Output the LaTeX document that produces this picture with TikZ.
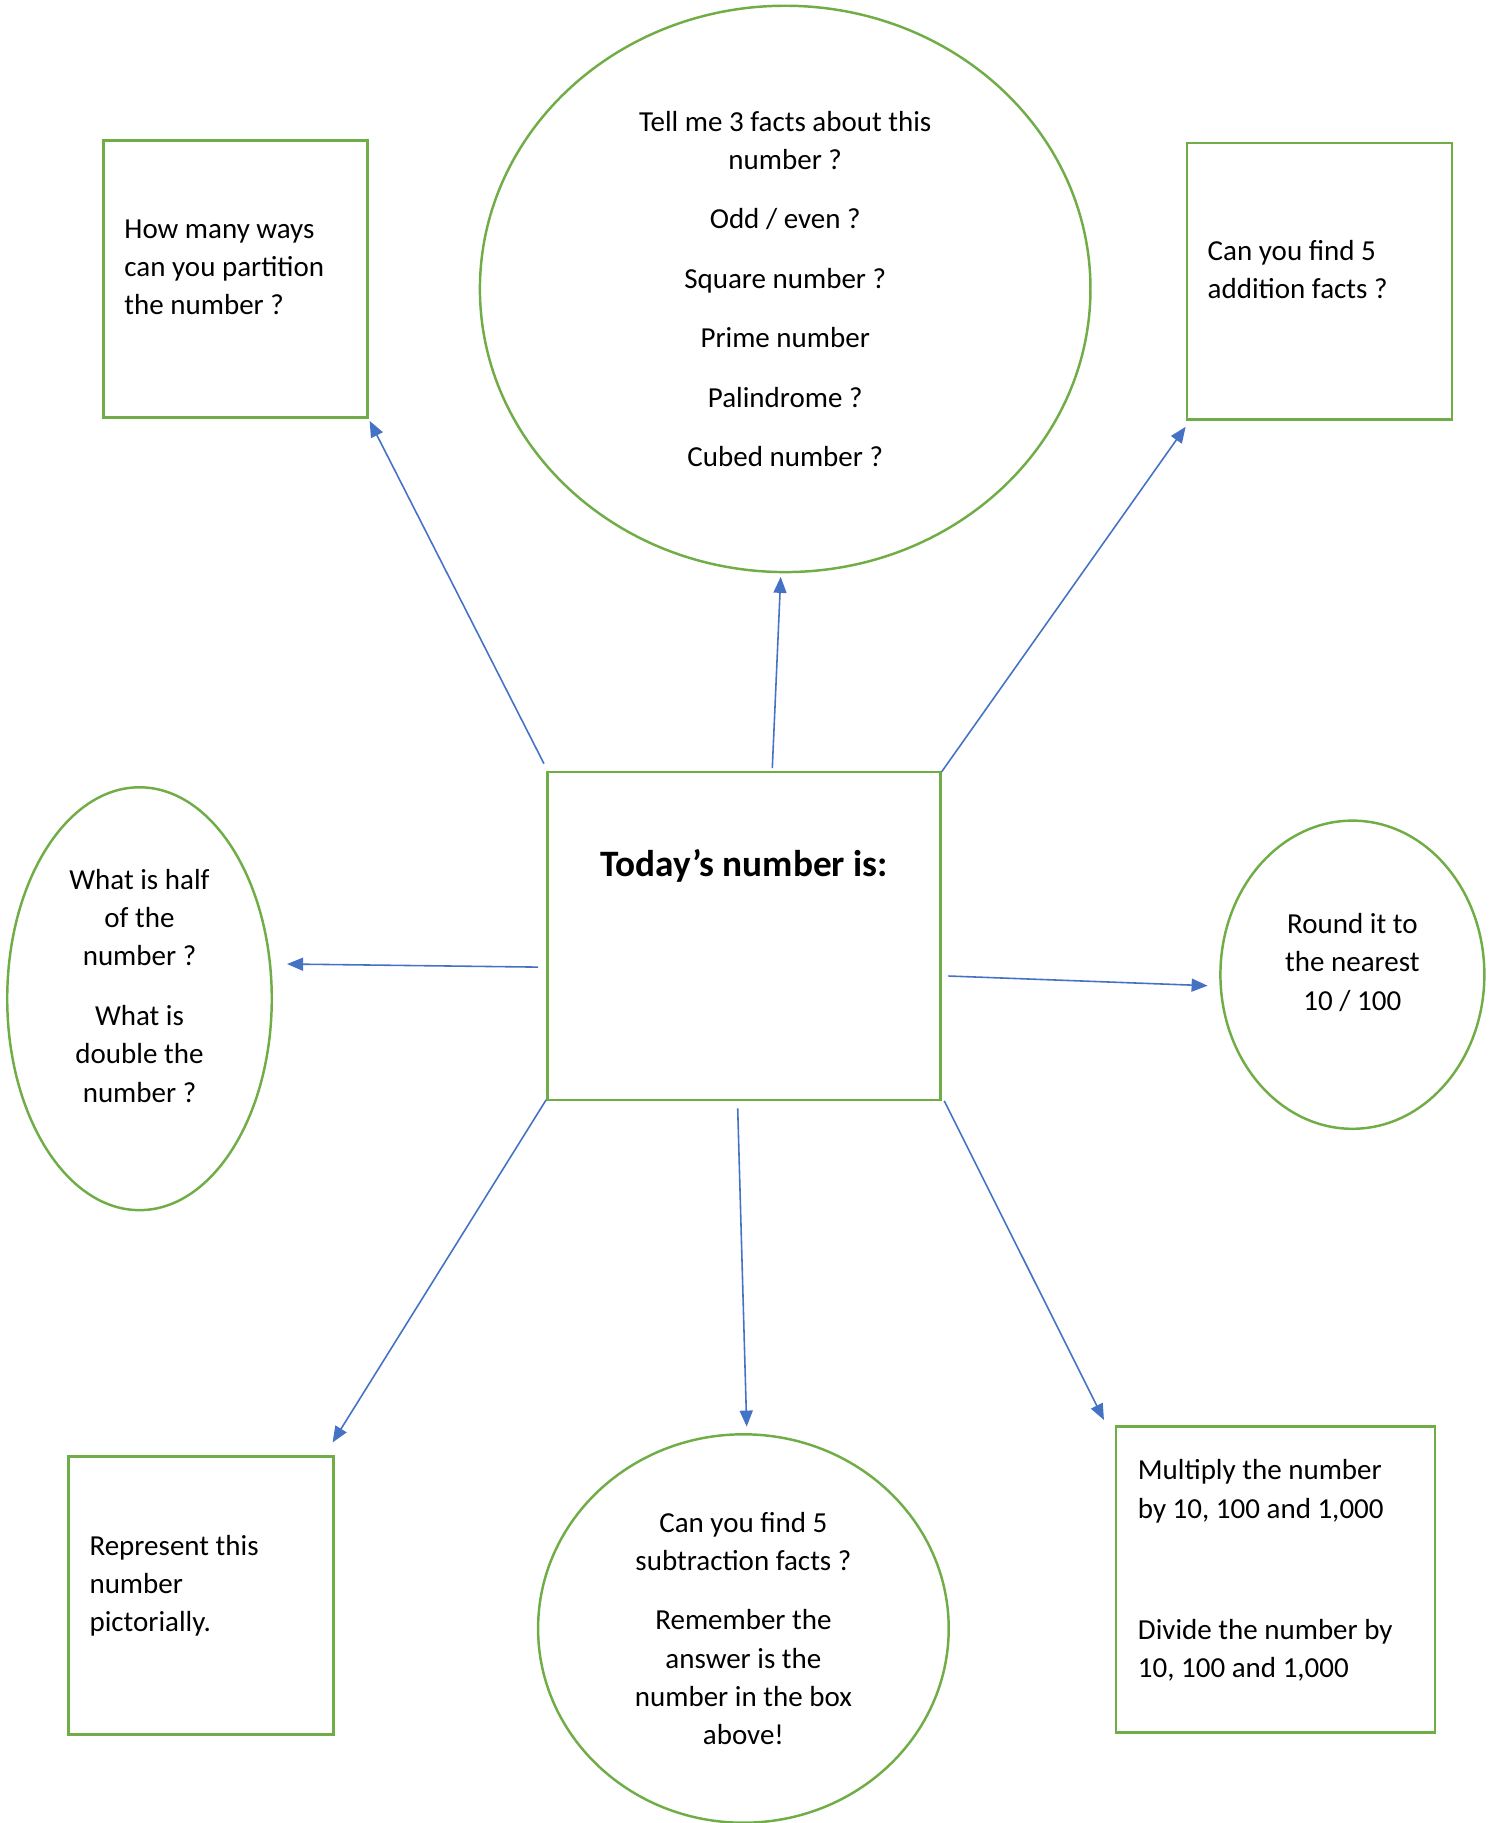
\documentclass[tikz,border=0pt]{standalone}
\usepackage{fontspec}
\setmainfont{Carlito}
\usetikzlibrary{shapes.geometric,arrows.meta}

\definecolor{boxgreen}{HTML}{70AD47}
\definecolor{linkblue}{HTML}{4472C4}

\tikzset{
    box/.style={draw=boxgreen, line width=0.7pt, rectangle, align=flush left, inner sep=0pt, outer sep=0pt,
        font=\fontsize{8.25}{10.9}\selectfont},
    bubble/.style={draw=boxgreen, line width=0.7pt, ellipse, align=flush center, inner sep=0pt, outer sep=0pt,
        font=\fontsize{8.25}{10.9}\selectfont},
    lift/.style={text height=0pt, text depth=#1},
    link/.style={draw=linkblue, line width=0.45pt, -{Triangle[length=0.16cm,width=0.13cm]}}
}

\begin{document}
\begin{tikzpicture}[x=0.01cm, y=-0.01cm]
        \useasboundingbox (0,0) rectangle (1496,1823);

        % Caixa central
        \node[box, minimum width=3.929cm, minimum height=3.28cm, align=center,
              text height=0.3cm, text depth=1.486cm,
              font=\fontsize{10.6}{13}\selectfont\bfseries] (today) at (744,936) {Today’s number is:};

        % Perguntas de cima
        \node[box, lift=0.814cm, minimum width=2.638cm, minimum height=2.767cm, text width=2.218cm] (partition) at (235.4,279)
            {How many ways\\can you partition\\the number ?};
        \node[bubble, minimum width=6.102cm, minimum height=5.66cm] (facts) at (785.2,288.9)
            {Tell me 3 facts about this\\number ?\\[6pt]Odd / even ?\\[6pt]Square number ?\\[6pt]Prime number\\[6pt]Palindrome ?\\[6pt]Cubed number ?};
        \node[box, lift=0.42cm, minimum width=2.65cm, minimum height=2.766cm, text width=2.23cm] (addition) at (1319.3,281.3)
            {Can you find 5\\addition facts ?};

        % Perguntas dos lados
        \node[bubble, lift=2.188cm, minimum width=2.644cm, minimum height=4.226cm, text width=1.8cm] (halving) at (139.5,998.7)
            {What is half\\of the\\number ?\\[6pt]What is\\double the\\number ?};
        \node[bubble, lift=0.826cm, minimum width=2.638cm, minimum height=3.08cm, text width=1.8cm] (rounding) at (1352.4,974.7)
            {Round it to\\the nearest\\10 / 100};

        % Perguntas de baixo
        \node[box, lift=0.802cm, minimum width=2.65cm, minimum height=2.778cm, text width=2.23cm] (picture) at (201.1,1595.4)
            {Represent this\\number\\pictorially.};
        \node[bubble, minimum width=4.104cm, minimum height=3.882cm] (subtraction) at (743.4,1628.5)
            {Can you find 5\\subtraction facts ?\\[6pt]Remember the\\answer is the\\number in the box\\above!};
        \node[box, lift=1.992cm, minimum width=3.191cm, minimum height=3.057cm, text width=2.75cm] (multiply) at (1275.5,1579.4)
            {Multiply the number\\by 10, 100 and 1,000\\[23.5pt]Divide the number by\\10, 100 and 1,000};

        % Setas
        \draw[link] ([shift={(-3.5,-8.3)}]today.north west) -- ([shift={(2.3,3.5)}]partition.south east);
        \draw[link] ([shift={(28.3,-3.7)}]today.north) -- ([shift={(-4.5,4.8)}]facts.south);
        \draw[link] ([shift={(1,0)}]today.north east) -- ([shift={(-1.1,7.1)}]addition.south west);
        \draw[link] ([shift={(-9.3,31.1)}]today.west) -- ([shift={(15.3,-34.7)}]halving.east);
        \draw[link] ([shift={(7.9,40)}]today.east) -- ([shift={(-12.8,11)}]rounding.west);
        \draw[link] ([shift={(-1.2,-0.4)}]today.south west) -- ([shift={(-1.1,-14)}]picture.north east);
        \draw[link] ([shift={(-6.3,8.3)}]today.south) -- ([shift={(3.3,-7.7)}]subtraction.north);
        \draw[link] ([shift={(3.6,0.7)}]today.south east) -- ([shift={(-11.9,-6.5)}]multiply.north west);
    \end{tikzpicture}
\end{document}
